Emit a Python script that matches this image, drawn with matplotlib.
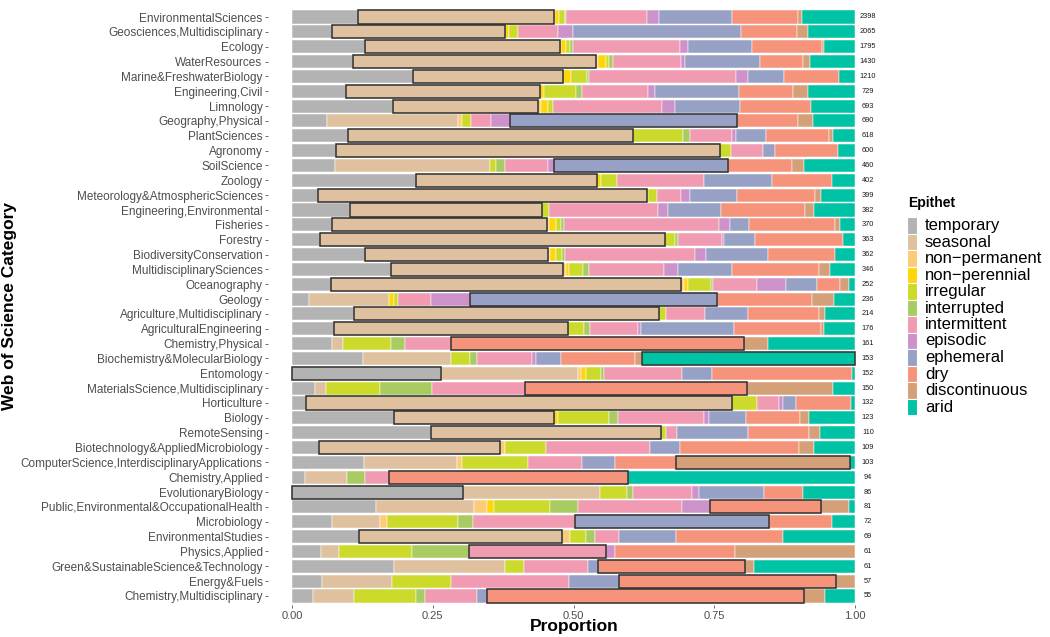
import numpy as np
import matplotlib
matplotlib.use("Agg")
import matplotlib.pyplot as plt
from matplotlib.patches import Rectangle

plt.rcParams['font.family'] = ['Liberation Sans', 'DejaVu Sans']

categories = [
    "EnvironmentalSciences", "Geosciences,Multidisciplinary", "Ecology", "WaterResources",
    "Marine&FreshwaterBiology", "Engineering,Civil", "Limnology", "Geography,Physical",
    "PlantSciences", "Agronomy", "SoilScience", "Zoology", "Meteorology&AtmosphericSciences",
    "Engineering,Environmental", "Fisheries", "Forestry", "BiodiversityConservation",
    "MultidisciplinarySciences", "Oceanography", "Geology", "Agriculture,Multidisciplinary",
    "AgriculturalEngineering", "Chemistry,Physical", "Biochemistry&MolecularBiology",
    "Entomology", "MaterialsScience,Multidisciplinary", "Horticulture", "Biology",
    "RemoteSensing", "Biotechnology&AppliedMicrobiology",
    "ComputerScience,InterdisciplinaryApplications", "Chemistry,Applied", "EvolutionaryBiology",
    "Public,Environmental&OccupationalHealth", "Microbiology", "EnvironmentalStudies",
    "Physics,Applied", "Green&SustainableScience&Technology", "Energy&Fuels",
    "Chemistry,Multidisciplinary",
]

counts = [2398, 2065, 1795, 1430, 1210, 729, 693, 690, 618, 600, 460, 402, 399, 382, 370,
          363, 362, 346, 252, 236, 214, 176, 161, 153, 152, 150, 132, 123, 110, 109, 103,
          94, 86, 81, 72, 69, 61, 61, 57, 55]

epithets = ["temporary", "seasonal", "non\u2212permanent", "non\u2212perennial", "irregular",
            "interrupted", "intermittent", "episodic", "ephemeral", "dry", "discontinuous", "arid"]

colors = ["#B3B3B3", "#DFC19F", "#FCCB78", "#FFD60A", "#CCDB2B", "#A8CB62", "#F19BB2",
          "#CC92C9", "#97A1C6", "#F6937B", "#D4A078", "#00C3A5"]

# percentages per epithet, one value per category (same order as categories)
temporary = [11.7, 7.1, 13.0, 10.8, 21.5, 9.7, 17.9, 6.2, 10.0, 7.9, 7.7, 22.1, 4.7, 10.3, 7.1,
             4.9, 13.0, 17.6, 7.0, 3.1, 11.0, 7.5, 7.1, 12.6, 26.5, 4.1, 2.5, 18.2, 24.8, 4.8,
             12.8, 2.4, 30.5, 14.9, 7.1, 11.9, 5.2, 18.2, 5.4, 3.7]
seasonal = [34.9, 30.8, 34.7, 43.4, 26.7, 34.5, 25.9, 23.4, 50.7, 68.3, 27.5, 32.1, 58.4, 34.1,
            38.3, 61.5, 32.6, 30.6, 62.3, 14.1, 54.2, 41.6, 1.9, 15.7, 24.4, 2.0, 75.8, 28.4,
            40.9, 32.1, 16.5, 7.4, 24.4, 17.4, 8.5, 36.1, 3.1, 19.7, 12.3, 7.4]
non_permanent = [0.2, 0, 0.2, 0.4, 0, 0, 0.5, 0.7, 0, 0, 0, 0, 0, 0, 0.3, 0, 0.3, 0.7, 0.5, 0,
                 0, 0, 0, 0, 0.5, 0, 0, 0, 0, 0.9, 1.0, 0, 0, 2.4, 1.2, 1.4, 0, 0, 0, 0]
non_perennial = [0.7, 0.6, 1.0, 1.4, 1.4, 0.7, 1.2, 0, 0, 0, 0, 0.7, 0.3, 0, 1.3, 0, 1.1, 0.5,
                 0.7, 0.9, 0, 0, 0, 0, 0.9, 0, 0, 0.8, 0, 0, 0, 0, 0, 1.2, 0, 0, 0, 0, 0, 0]
irregular = [1.1, 1.6, 0.7, 0.4, 2.9, 5.7, 0.9, 1.5, 8.8, 2.0, 1.1, 2.8, 1.6, 1.3, 0.9, 1.8,
             1.0, 2.4, 4.1, 0.7, 1.3, 2.9, 8.6, 3.3, 2.6, 9.5, 4.5, 9.0, 0.9, 7.4, 11.7, 0,
             4.7, 10.0, 12.6, 2.9, 13.1, 3.4, 10.6, 10.9]
interrupted = [0.3, 0, 0.5, 0.8, 0.4, 1.0, 0, 0, 1.3, 0, 1.5, 0, 0, 0, 0.5, 0.5, 0.5, 1.1, 0.3,
               0, 0, 1.0, 2.6, 1.3, 0.5, 9.3, 0, 1.6, 0, 0, 0, 3.1, 1.1, 4.9, 2.8, 1.5, 10.0,
               0, 0, 1.7]
intermittent = [14.4, 7.2, 19.1, 12.1, 26.1, 11.8, 19.5, 3.6, 7.5, 5.6, 7.7, 15.5, 4.3, 19.3,
                27.5, 7.9, 23.3, 13.4, 7.9, 6.0, 7.0, 8.5, 8.1, 9.8, 13.9, 16.6, 3.9, 15.4, 2.0,
                18.3, 9.7, 4.3, 10.5, 18.5, 18.0, 4.2, 24.4, 11.3, 21.0, 9.1]
episodic = [2.0, 2.6, 1.3, 0.7, 2.2, 1.2, 2.3, 3.4, 0.7, 0, 1.0, 0, 1.6, 1.9, 1.9, 0.3, 1.8,
            2.5, 5.2, 6.8, 0, 0.5, 0, 0.7, 0, 0, 0.7, 0.8, 0, 0, 0, 0, 1.2, 5.0, 0, 0, 1.6,
            0, 0, 0]
ephemeral = [13.1, 30.0, 11.4, 13.3, 6.4, 15.1, 11.5, 40.3, 5.4, 2.2, 31.1, 12.1, 8.3, 9.4,
             3.5, 5.6, 11.2, 9.6, 5.4, 44.1, 7.6, 16.6, 0, 4.5, 5.3, 0, 2.3, 6.6, 12.6, 5.4,
             5.8, 0, 11.6, 0, 34.6, 10.2, 0, 1.8, 8.8, 1.8]
dry = [11.7, 9.8, 12.6, 7.7, 9.7, 9.5, 12.6, 10.9, 11.1, 11.2, 11.3, 10.7, 13.8, 14.9, 15.2,
       15.6, 11.9, 15.4, 4.1, 16.9, 12.6, 15.4, 52.2, 13.1, 25.0, 39.4, 9.8, 9.7, 10.9, 21.2,
       10.8, 42.5, 7.0, 19.8, 11.1, 19.0, 21.3, 26.2, 38.7, 56.4]
discontinuous = [0.7, 2.1, 0.2, 1.2, 0, 2.8, 0, 2.6, 0.7, 0, 2.2, 0, 1.2, 1.6, 1.0, 0, 0, 2.0,
                 1.7, 3.9, 1.0, 0.5, 4.3, 1.2, 0, 15.2, 0, 1.6, 1.8, 2.6, 31.0, 0, 0, 5.0, 0,
                 0, 21.3, 1.6, 3.3, 3.7]
arid = [9.5, 8.3, 5.6, 8.1, 2.9, 8.3, 7.9, 7.5, 4.0, 3.0, 9.0, 4.1, 6.0, 7.3, 2.6, 2.2, 3.5,
        4.5, 1.0, 3.7, 5.4, 5.6, 15.5, 37.9, 0.5, 4.0, 0.7, 8.1, 6.3, 7.3, 0.9, 40.4, 9.2,
        1.0, 4.1, 12.8, 0, 17.9, 0, 5.3]

series = [temporary, seasonal, non_permanent, non_perennial, irregular, interrupted,
          intermittent, episodic, ephemeral, dry, discontinuous, arid]

vals = np.array(series, dtype=float).T  # rows = categories
props = vals / vals.sum(axis=1, keepdims=True)
n = len(categories)
ypos = np.arange(n)

W, H = 1050, 637
fig = plt.figure(figsize=(W / 100, H / 100), dpi=100)
x0_px, x1_px = 292, 855
pad = 0.042
yexp = 0.6
ax_left = x0_px - pad * (x1_px - x0_px)
ax_w = (x1_px - x0_px) * (1 + 2 * pad)
row_h = (596 - 17) / (n - 1)
ax_top = 17 - yexp * row_h
ax_bot = 596 + yexp * row_h
ax = fig.add_axes([ax_left / W, 1 - ax_bot / H, ax_w / W, (ax_bot - ax_top) / H])

bar_h = 0.88
left = np.zeros(n)
for j in range(len(epithets)):
    w = props[:, j]
    m = w > 0
    ax.barh(ypos[m], w[m], left=left[m], height=bar_h, color=colors[j],
            edgecolor="white", linewidth=0.35, zorder=2)
    left += w

# outline the largest category share in each row
cum = np.cumsum(props, axis=1)
starts = cum - props
imax = props.argmax(axis=1)
for i in range(n):
    k = imax[i]
    ax.barh(ypos[i], props[i, k], left=starts[i, k], height=bar_h, fill=False,
            edgecolor="#2b2b2b", linewidth=1.1, zorder=3)

for i in range(n):
    ax.text(1.023, ypos[i], str(counts[i]), ha="center", va="center", fontsize=5.3,
            color="#1a1a1a", transform=ax.transData, clip_on=False)

ax.set_xlim(-pad, 1 + pad)
ax.set_ylim(n - 1 + yexp, -yexp)
ax.set_yticks(ypos)
ax.set_yticklabels(categories, fontsize=8.5, color="#4d4d4d")
ax.set_xticks([0, 0.25, 0.5, 0.75, 1.0])
ax.set_xticklabels(["0.00", "0.25", "0.50", "0.75", "1.00"], fontsize=8, color="#4d4d4d")
ax.tick_params(axis="both", length=2.2, width=0.6, color="#555555", pad=2)
for s in ax.spines.values():
    s.set_visible(False)
ax.set_facecolor("white")

fig.text(574 / W, 1 - 627 / H, "Proportion", ha="center", va="center", fontsize=12.5,
         fontweight="bold")
fig.text(10 / W, 1 - 306 / H, "Web of Science Category", ha="center", va="center",
         rotation=90, fontsize=12.5, fontweight="bold")

# legend
fig.text(908 / W, 1 - 203 / H, "Epithet", ha="left", va="center", fontsize=10,
         fontweight="bold")
y_first, step = 225.5, 16.5
for j, (name, c) in enumerate(zip(epithets, colors)):
    yc = y_first + j * step
    fig.patches.append(Rectangle((907 / W, 1 - (yc + step / 2) / H), 9.5 / W, step / H,
                                 transform=fig.transFigure, facecolor=c, edgecolor="white",
                                 linewidth=0.8))
    fig.text(925 / W, 1 - yc / H, name, ha="left", va="center", fontsize=12, color="black")

fig.savefig("out.png", dpi=100)
